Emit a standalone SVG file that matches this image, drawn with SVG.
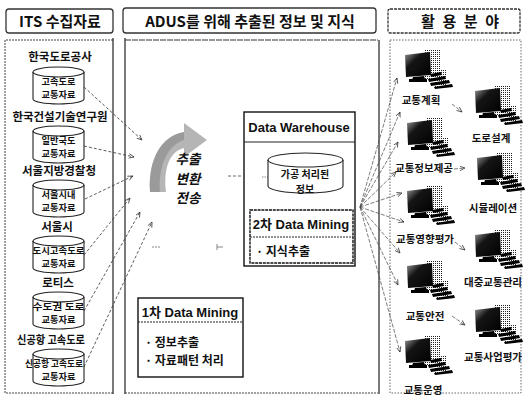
<svg xmlns="http://www.w3.org/2000/svg" width="525" height="397" viewBox="0 0 525 397">
  <defs>
    <style>
      .ko{font-family:"Noto Sans CJK KR","Liberation Sans",sans-serif;font-weight:bold;fill:#111}
      .lat{font-family:"Liberation Sans","Noto Sans CJK KR",sans-serif;font-weight:bold;fill:#111}
      .hdr{font-size:15px;text-anchor:middle}
      .lbl{font-size:11.5px;text-anchor:middle}
      .ctx{font-size:9.2px;text-anchor:middle}
      .app{font-size:10.5px;text-anchor:middle}
      .etl{font-size:13.5px;font-style:italic;text-anchor:middle}
      .hbox{fill:none;stroke:#333;stroke-width:1.3}
      .cyl{fill:#fff;stroke:#222;stroke-width:1.1}
      .box{fill:#fff;stroke:#111;stroke-width:1.4}
      .sep{stroke:#222;stroke-width:1;stroke-dasharray:2 1}
      .conn{fill:none;stroke:#333;stroke-width:0.8;stroke-dasharray:3 2;marker-end:url(#arr)}
      .fan{fill:none;stroke:#444;stroke-width:0.7;stroke-dasharray:4 1.5;marker-end:url(#arr)}
    </style>
    <marker id="arr" viewBox="0 0 8 8" refX="7" refY="4" markerWidth="6" markerHeight="6" orient="auto" markerUnits="userSpaceOnUse">
      <path d="M0,1 L7,4 L0,7" fill="none" stroke="#333" stroke-width="1"/>
    </marker>
    <pattern id="dots" width="2" height="2" patternUnits="userSpaceOnUse">
      <rect width="1" height="1" fill="#222"/>
    </pattern>
    <linearGradient id="scr" x1="0" y1="0" x2="1" y2="1">
      <stop offset="0" stop-color="#9a9a9a"/>
      <stop offset="0.35" stop-color="#151515"/>
      <stop offset="1" stop-color="#000"/>
    </linearGradient>
    <!-- storage cylinder, 51 x 37 -->
    <g id="cyl">
      <path class="cyl" d="M0,5 A25.5,5 0 0 1 51,5 L51,32 A25.5,5 0 0 1 0,32 Z"/>
      <path d="M0,5 A25.5,5 0 0 0 51,5" fill="none" stroke="#222" stroke-width="1.1"/>
    </g>
    <!-- workstation icon: monitor, tower, keyboard -->
    <g id="pc">
      <rect x="20" y="-3" width="15" height="30" fill="url(#dots)"/>
      <rect x="30" y="18" width="12" height="18" fill="url(#dots)"/>
      <path d="M0,3 L25,0 L26,23 L1,25 Z" fill="url(#scr)"/>
      <path d="M8,25 L19,24 L20,27 L7,28 Z" fill="#000"/>
      <rect x="4" y="27" width="18" height="3" fill="#000"/>
      <g fill="#000">
        <path d="M25,22 L36,20 L37,23 L26,25 Z"/>
        <path d="M23,27 L40,24 L41,27 L24,30 Z"/>
        <path d="M25,31 L44,28 L45,31 L26,34 Z"/>
        <path d="M29,35 L47,32 L48,35 L30,37 Z"/>
      </g>
    </g>
  </defs>

  <rect width="525" height="397" fill="#fff"/>

  <!-- column headers -->
  <g id="headers">
    <rect class="hbox" x="6" y="9" width="107" height="24" rx="3"/>
    <text class="ko hdr" x="60" y="27">ITS 수집자료</text>
    <rect class="hbox" x="123" y="8" width="253" height="25" rx="3"/>
    <text class="ko hdr" x="250" y="27">ADUS를 위해 추출된 정보 및 지식</text>
    <rect class="hbox" x="388" y="9" width="132" height="24" rx="2" stroke-dasharray="3 1"/>
    <text class="ko hdr" x="460" y="27" textLength="78" lengthAdjust="spacing">활 용 분 야</text>
  </g>

  <!-- column panels -->
  <g id="panels" fill="none">
    <path d="M113,40 L5,40 L5,393 L113,393" stroke="#444" stroke-width="1" stroke-dasharray="2 1"/>
    <line x1="113" y1="38" x2="113" y2="394" stroke="#222" stroke-width="1.2"/>
    <line x1="125" y1="38" x2="125" y2="394" stroke="#222" stroke-width="1.2"/>
    <path d="M125,40 L378,40" stroke="#333" stroke-width="1" stroke-dasharray="6 1"/>
    <path d="M125,393 L378,393" stroke="#444" stroke-width="1" stroke-dasharray="2 1"/>
    <line x1="379" y1="40" x2="379" y2="394" stroke="#222" stroke-width="1.2"/>
    <rect x="390" y="40" width="131" height="353" stroke="#555" stroke-width="0.9" stroke-dasharray="1.5 1.5"/>
  </g>

  <!-- data sources -->
  <g id="src-ex">
    <text class="ko lbl" x="60" y="61">한국도로공사</text>
    <use href="#cyl" x="33" y="67"/>
    <text class="ko ctx" x="58.5" y="84.5">고속도로</text>
    <text class="ko ctx" x="58.5" y="98">교통자료</text>
  </g>
  <g id="src-kict">
    <text class="ko lbl" x="60" y="121">한국건설기술연구원</text>
    <use href="#cyl" x="33" y="126"/>
    <text class="ko ctx" x="58.5" y="143.5">일반국도</text>
    <text class="ko ctx" x="58.5" y="157">교통자료</text>
  </g>
  <g id="src-police">
    <text class="ko lbl" x="59" y="175">서울지방경찰청</text>
    <use href="#cyl" x="33" y="180"/>
    <text class="ko ctx" x="58.5" y="197.5">서울시내</text>
    <text class="ko ctx" x="58.5" y="211">교통자료</text>
  </g>
  <g id="src-seoul">
    <text class="ko lbl" x="57" y="231">서울시</text>
    <use href="#cyl" x="33" y="236"/>
    <text class="ko ctx" x="58.5" y="253.5" textLength="52" lengthAdjust="spacingAndGlyphs">도시고속도로</text>
    <text class="ko ctx" x="58.5" y="267">교통자료</text>
  </g>
  <g id="src-rotis">
    <text class="ko lbl" x="58" y="287">로티스</text>
    <use href="#cyl" x="33" y="292"/>
    <text class="ko ctx" x="58.5" y="309.5" textLength="52" lengthAdjust="spacingAndGlyphs">수도권 도로</text>
    <text class="ko ctx" x="58.5" y="323">교통자료</text>
  </g>
  <g id="src-airport">
    <text class="ko lbl" x="51" y="344" textLength="68" lengthAdjust="spacingAndGlyphs">신공항 고속도로</text>
    <use href="#cyl" x="33" y="349"/>
    <text class="ko ctx" x="54" y="366.5" textLength="58" lengthAdjust="spacingAndGlyphs">신공항 고속도로</text>
    <text class="ko ctx" x="58.5" y="380">교통자료</text>
  </g>

  <!-- extract / transform / load arrow -->
  <g id="etl">
    <path d="M150,192 C148,158 162,136 184,132 L184,123 L207,140 L184,157 L184,148 C171,151 163,166 166,192 Z" fill="#a8a8a8" opacity="0.85"/>
    <path d="M150,192 C148,158 162,136 184,132 L184,140 C168,145 158,165 160,192 Z" fill="#888" opacity="0.6"/>
    <text class="ko etl" x="188" y="164">추출</text>
    <text class="ko etl" x="188" y="183.6">변환</text>
    <text class="ko etl" x="188" y="203.2">전송</text>
  </g>

  <!-- connectors -->
  <g id="connectors">
    <line class="conn" x1="84" y1="87" x2="142" y2="140"/>
    <line class="conn" x1="84" y1="146" x2="134" y2="157"/>
    <line class="conn" x1="85" y1="199" x2="133" y2="176"/>
    <line class="conn" x1="84" y1="255" x2="130" y2="198"/>
    <line class="conn" x1="84" y1="311" x2="140" y2="212"/>
    <line class="conn" x1="84" y1="367" x2="152" y2="222"/>
    <line x1="228" y1="176" x2="243" y2="176" stroke="#444" stroke-width="0.8" stroke-dasharray="3 2"/>
    <line x1="152" y1="247" x2="160" y2="247" stroke="#555" stroke-width="0.7" stroke-dasharray="2 1"/>
    <line x1="217" y1="247" x2="223" y2="247" stroke="#555" stroke-width="0.7"/>
    <line x1="217" y1="244" x2="217" y2="250" stroke="#555" stroke-width="0.7"/>
    <line class="fan" x1="360" y1="207" x2="397" y2="78"/>
    <line class="fan" x1="360" y1="207" x2="400" y2="112"/>
    <line class="fan" x1="360" y1="207" x2="398" y2="142"/>
    <line class="fan" x1="360" y1="207" x2="396" y2="172"/>
    <line class="fan" x1="360" y1="207" x2="402" y2="193"/>
    <line class="fan" x1="360" y1="207" x2="404" y2="222"/>
    <line class="fan" x1="360" y1="207" x2="400" y2="253"/>
    <line class="fan" x1="360" y1="207" x2="398" y2="285"/>
    <line class="fan" x1="360" y1="207" x2="400" y2="352"/>
    <line class="fan" x1="452" y1="104" x2="462" y2="112"/>
    <line class="fan" x1="454" y1="169" x2="465" y2="168"/>
    <line class="fan" x1="455" y1="242" x2="465" y2="250"/>
    <line class="fan" x1="452" y1="316" x2="465" y2="325"/>
  </g>

  <!-- data warehouse -->
  <g id="dw">
    <rect class="box" x="244" y="112" width="111" height="154" stroke-width="1.7"/>
    <line x1="244" y1="142" x2="355" y2="142" stroke="#222" stroke-width="1"/>
    <text class="lat" x="299" y="132" font-size="13" text-anchor="middle">Data Warehouse</text>
    <path class="cyl" d="M268,160 A37.5,7 0 0 1 343,160 L343,186 A37.5,7 0 0 1 268,186 Z"/>
    <path d="M268,160 A37.5,7 0 0 0 343,160" fill="none" stroke="#222" stroke-width="1.1"/>
    <line x1="262" y1="177" x2="268" y2="177" stroke="#555" stroke-width="0.7" stroke-dasharray="1.5 1"/>
    <text class="ko" x="305" y="178" font-size="10" text-anchor="middle">가공 처리된</text>
    <text class="ko" x="305" y="193" font-size="10" text-anchor="middle">정보</text>
  </g>
  <g id="dm2">
    <rect class="box" x="250" y="210" width="103" height="53" stroke-width="1.1" stroke-dasharray="3 0.8"/>
    <line class="sep" x1="250" y1="237" x2="353" y2="237"/>
    <text class="lat" x="301" y="229" font-size="13" text-anchor="middle">2차 Data Mining</text>
    <text class="ko" x="256" y="256" font-size="12">· 지식추출</text>
  </g>

  <!-- first-stage mining -->
  <g id="dm1">
    <rect class="box" x="138" y="298" width="105" height="79" stroke-width="1.2"/>
    <line class="sep" x1="138" y1="322" x2="243" y2="322"/>
    <text class="lat" x="190" y="317" font-size="13" text-anchor="middle">1차 Data Mining</text>
    <text class="ko" x="145" y="347" font-size="12">· 정보추출</text>
    <text class="ko" x="145" y="365" font-size="12">· 자료패턴 처리</text>
  </g>

  <!-- application areas -->
  <g id="app-plan"><use href="#pc" x="405" y="52"/><text class="ko app" x="421" y="104">교통계획</text></g>
  <g id="app-road"><use href="#pc" x="475" y="88"/><text class="ko app" x="491" y="142">도로설계</text></g>
  <g id="app-info"><use href="#pc" x="407" y="120"/><text class="ko app" x="424" y="172">교통정보제공</text></g>
  <g id="app-sim"><use href="#pc" x="477" y="155"/><text class="ko app" x="493" y="212">시뮬레이션</text></g>
  <g id="app-impact"><use href="#pc" x="407" y="188"/><text class="ko app" x="425" y="243">교통영향평가</text></g>
  <g id="app-transit"><use href="#pc" x="475" y="232"/><text class="ko app" x="493" y="286">대중교통관리</text></g>
  <g id="app-safety"><use href="#pc" x="407" y="263"/><text class="ko app" x="425" y="320">교통안전</text></g>
  <g id="app-eval"><use href="#pc" x="475" y="307"/><text class="ko app" x="493" y="361">교통사업평가</text></g>
  <g id="app-ops"><use href="#pc" x="405" y="338"/><text class="ko app" x="423" y="394">교통운영</text></g>
</svg>
